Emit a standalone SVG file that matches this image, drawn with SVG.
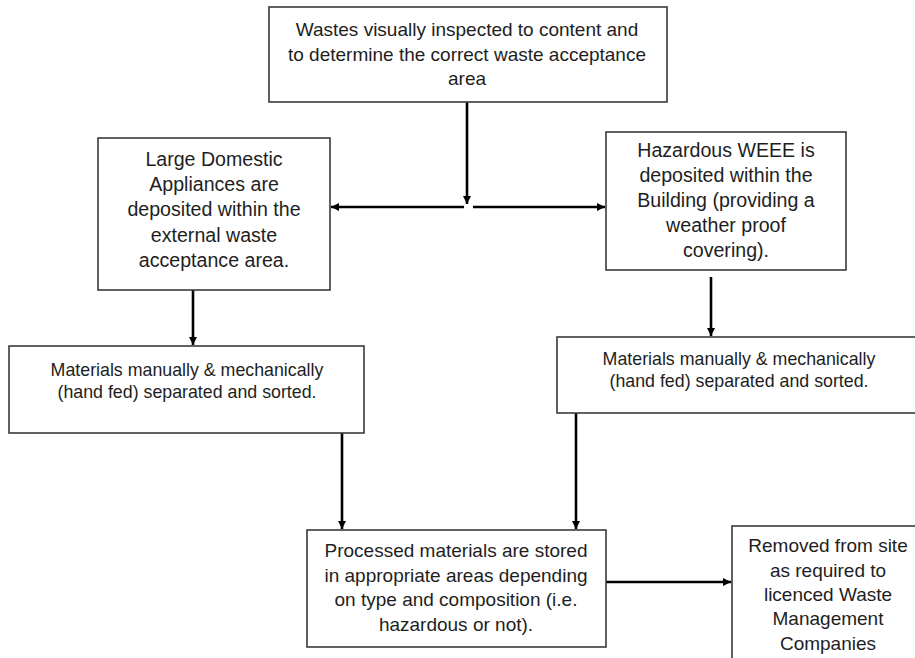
<svg xmlns="http://www.w3.org/2000/svg" width="915" height="658" viewBox="0 0 915 658">
<defs>
<marker id="ah" markerWidth="10" markerHeight="10" refX="8" refY="5" orient="auto" markerUnits="userSpaceOnUse">
<path d="M0,1 L8,5 L0,9 Z" fill="#000"/>
</marker>
<style>
.box{fill:#fff;stroke:#3a3a3a;stroke-width:1.6}
.t{font-family:"Liberation Sans",Arial,sans-serif;fill:#1e1e1e;text-anchor:middle}
.f19{font-size:19px}
.f195{font-size:19.6px}
.f18{font-size:17.8px}
.c{stroke:#000;stroke-width:2.6;fill:none;marker-end:url(#ah)}
</style>
</defs>
<rect width="915" height="658" fill="#fff"/>
<g id="connectors">
<line class="c" x1="467" y1="102" x2="467" y2="204"/>
<line class="c" x1="464" y1="207" x2="331" y2="207"/>
<line class="c" x1="473" y1="207" x2="605" y2="207"/>
<line class="c" x1="193" y1="290" x2="193" y2="345"/>
<line class="c" x1="711" y1="277" x2="711" y2="336"/>
<line class="c" x1="342" y1="433" x2="342" y2="529"/>
<line class="c" x1="576" y1="413" x2="576" y2="529"/>
<line class="c" x1="606" y1="582" x2="731" y2="582"/>
</g>
<g id="n-inspect">
<rect class="box" x="269" y="7" width="398" height="95"/>
<text class="t f19" x="467" y="36">Wastes visually inspected to content and</text>
<text class="t f19" x="467" y="61">to determine the correct waste acceptance</text>
<text class="t f19" x="467" y="85">area</text>
</g>
<g id="n-lda">
<rect class="box" x="98" y="138" width="232" height="152"/>
<text class="t f195" x="214" y="166">Large Domestic</text>
<text class="t f195" x="214" y="191">Appliances are</text>
<text class="t f195" x="214" y="216">deposited within the</text>
<text class="t f195" x="214" y="242">external waste</text>
<text class="t f195" x="214" y="267">acceptance area.</text>
</g>
<g id="n-weee">
<rect class="box" x="606" y="132" width="240" height="138"/>
<text class="t f195" x="726" y="157">Hazardous WEEE is</text>
<text class="t f195" x="726" y="182">deposited within the</text>
<text class="t f195" x="726" y="207">Building (providing a</text>
<text class="t f195" x="726" y="232">weather proof</text>
<text class="t f195" x="726" y="257">covering).</text>
</g>
<g id="n-sort-left">
<rect class="box" x="9" y="346" width="355" height="87"/>
<text class="t f18" x="187" y="376">Materials manually &amp; mechanically</text>
<text class="t f18" x="187" y="398">(hand fed) separated and sorted.</text>
</g>
<g id="n-sort-right">
<rect class="box" x="557" y="337" width="364" height="76"/>
<text class="t f18" x="739" y="365">Materials manually &amp; mechanically</text>
<text class="t f18" x="739" y="387">(hand fed) separated and sorted.</text>
</g>
<g id="n-store">
<rect class="box" x="307" y="530" width="299" height="117"/>
<text class="t f19" x="456" y="557">Processed materials are stored</text>
<text class="t f19" x="456" y="582">in appropriate areas depending</text>
<text class="t f19" x="456" y="606">on type and composition (i.e.</text>
<text class="t f19" x="456" y="631">hazardous or not).</text>
</g>
<g id="n-removed">
<rect class="box" x="732" y="526" width="192" height="150"/>
<text class="t f19" x="828" y="552">Removed from site</text>
<text class="t f19" x="828" y="577">as required to</text>
<text class="t f19" x="828" y="601">licenced Waste</text>
<text class="t f19" x="828" y="625">Management</text>
<text class="t f19" x="828" y="650">Companies</text>
</g>
</svg>
